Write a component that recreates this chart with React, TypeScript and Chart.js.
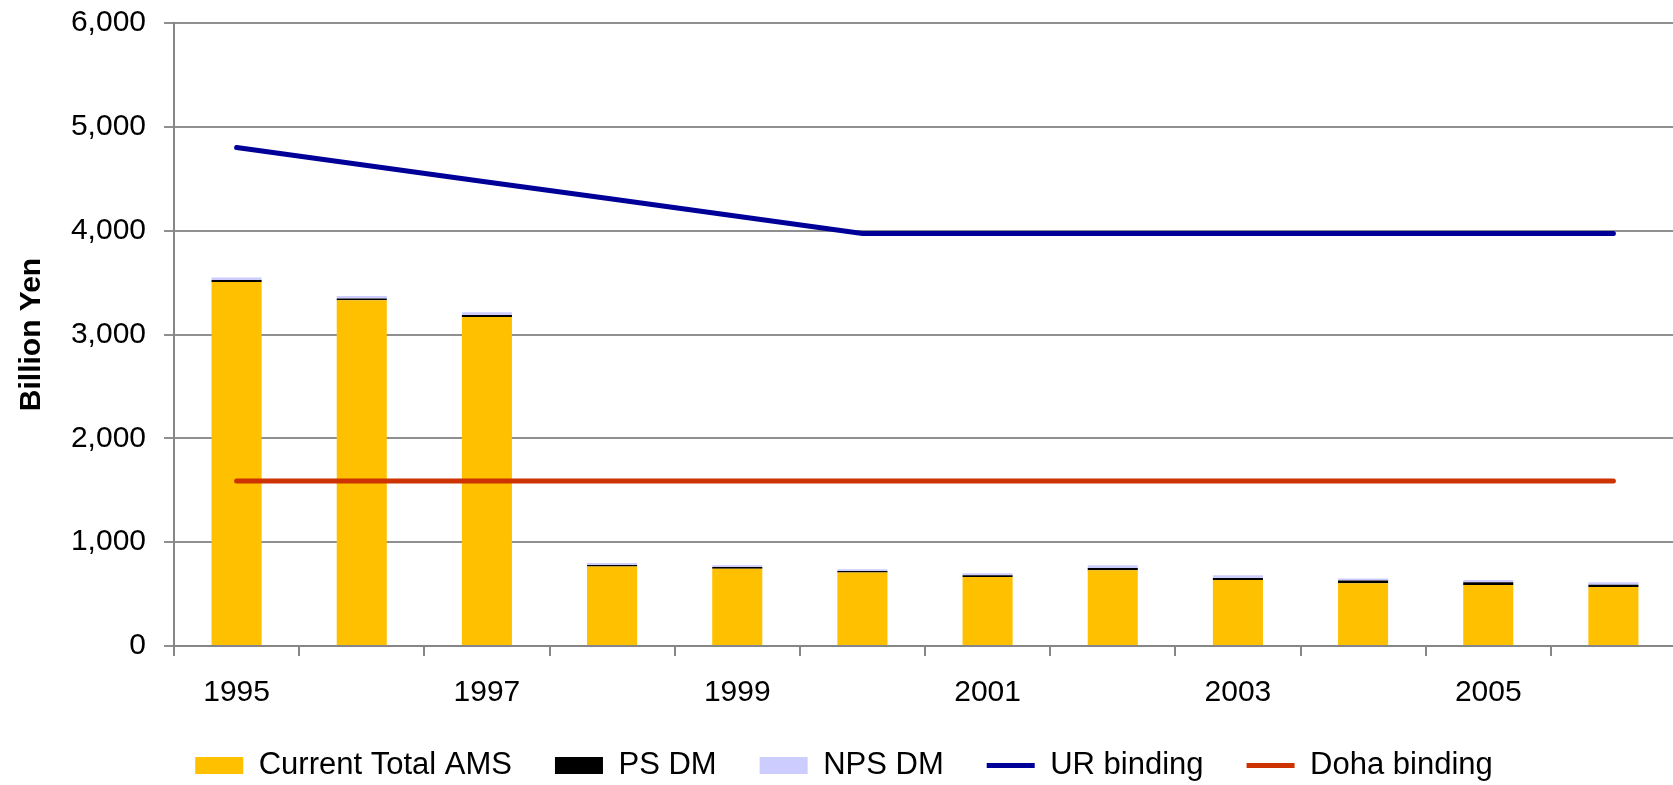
import React, { useEffect, useRef } from "react";
import { Chart, registerables } from "chart.js";

Chart.register(...registerables);

const years = ["1995", "1996", "1997", "1998", "1999", "2000", "2001", "2002", "2003", "2004", "2005", "2006"];
const currentTotalAMS = [3506, 3330, 3169, 765, 745, 707, 665, 729, 636, 604, 588, 568];
const psDM = [19, 16, 19, 15, 16, 15, 16, 22, 19, 26, 25, 23];
const npsDM = [23, 25, 26, 19, 16, 17, 19, 26, 26, 19, 23, 22];
const urBinding = [4801, 4635, 4469, 4304, 4138, 3973, 3973, 3973, 3973, 3973, 3973, 3973];
const dohaBinding = [1589, 1589, 1589, 1589, 1589, 1589, 1589, 1589, 1589, 1589, 1589, 1589];
const yTicks = [0, 1000, 2000, 3000, 4000, 5000, 6000];

const FONT = "'Liberation Sans', Arial, sans-serif";

export default function App() {
  const ref = useRef<HTMLCanvasElement | null>(null);

  useEffect(() => {
    document.body.style.margin = "0";
    const canvas = ref.current;
    if (!canvas) return;
    const chart = new Chart(canvas, {
      type: "bar",
      data: {
        labels: years,
        datasets: [
          {
            type: "bar",
            label: "Current Total AMS",
            data: currentTotalAMS,
            backgroundColor: "#FFC000",
            borderWidth: 0,
            barPercentage: 0.4,
            categoryPercentage: 1,
            stack: "ams",
            order: 2,
          },
          {
            type: "bar",
            label: "PS DM",
            data: psDM,
            backgroundColor: "#000000",
            borderWidth: 0,
            barPercentage: 0.4,
            categoryPercentage: 1,
            stack: "ams",
            order: 2,
          },
          {
            type: "bar",
            label: "NPS DM",
            data: npsDM,
            backgroundColor: "#CCCCFF",
            borderWidth: 0,
            barPercentage: 0.4,
            categoryPercentage: 1,
            stack: "ams",
            order: 2,
          },
          {
            type: "line",
            label: "UR binding",
            data: urBinding,
            borderColor: "#000099",
            backgroundColor: "#000099",
            borderWidth: 5,
            borderCapStyle: "round",
            pointRadius: 0,
            tension: 0,
            stack: "ur",
            order: 1,
          },
          {
            type: "line",
            label: "Doha binding",
            data: dohaBinding,
            borderColor: "#CC3300",
            backgroundColor: "#CC3300",
            borderWidth: 5,
            borderCapStyle: "round",
            pointRadius: 0,
            tension: 0,
            stack: "doha",
            order: 1,
          },
        ] as any,
      },
      options: {
        animation: false,
        responsive: false,
        devicePixelRatio: 1,
        layout: { padding: { top: 23, right: 4, left: 12, bottom: 0 } },
        plugins: {
          tooltip: { enabled: false },
          legend: {
            position: "bottom",
            labels: {
              color: "#000",
              font: { family: FONT, size: 31 },
              usePointStyle: true,
              pointStyleWidth: 48,
              boxHeight: 17,
              padding: 43,
              sort: (a: any, b: any) => a.datasetIndex - b.datasetIndex,
              generateLabels: (c: any) => {
                const items = Chart.defaults.plugins.legend.labels.generateLabels(c);
                return items.map((it: any) => {
                  const ds: any = c.data.datasets[it.datasetIndex];
                  if (ds.type === "line") {
                    it.pointStyle = "line";
                    it.strokeStyle = ds.borderColor;
                    it.lineWidth = 5;
                  } else {
                    it.pointStyle = "rect";
                    it.lineWidth = 0;
                  }
                  return it;
                });
              },
            },
          },
        },
        scales: {
          x: {
            stacked: true,
            offset: true,
            grid: {
              offset: true,
              drawOnChartArea: false,
              drawTicks: true,
              tickLength: 10,
              color: "#868686",
              lineWidth: 2,
            },
            border: { display: true, color: "#868686", width: 2 },
            ticks: {
              autoSkip: false,
              maxRotation: 0,
              minRotation: 0,
              padding: 19,
              color: "#000",
              font: { family: FONT, size: 30 },
              callback: (_v: any, i: number) => (i % 2 === 0 ? years[i] : ""),
            },
            afterFit: (s: any) => {
              s.height = 61;
            },
          },
          y: {
            stacked: true,
            min: 0,
            max: 6000,
            afterBuildTicks: (s: any) => {
              s.ticks = yTicks.map((v) => ({ value: v }));
            },
            grid: {
              color: "#8f8f8f",
              lineWidth: 2,
              tickLength: 10,
              drawTicks: true,
            },
            border: { display: true, color: "#868686", width: 2 },
            ticks: {
              padding: 18,
              color: "#000",
              font: { family: FONT, size: 30 },
              callback: (v: any) => Number(v).toLocaleString("en-US"),
            },
            title: {
              display: true,
              text: "Billion Yen",
              color: "#000",
              font: { family: FONT, size: 30, weight: "bold" },
              padding: { top: 2, bottom: 0 },
            },
            afterFit: (s: any) => {
              s.width = 162;
              s.paddingTop = 0;
              s.paddingBottom = 0;
            },
          },
        },
      } as any,
    });
    return () => chart.destroy();
  }, []);

  return (
    <div style={{ position: "fixed", left: 0, top: 0, width: 1673, height: 785, overflow: "hidden", background: "#fff" }}>
      <canvas ref={ref} width={1680} height={791} style={{ display: "block", width: 1680, height: 791 }} />
    </div>
  );
}
